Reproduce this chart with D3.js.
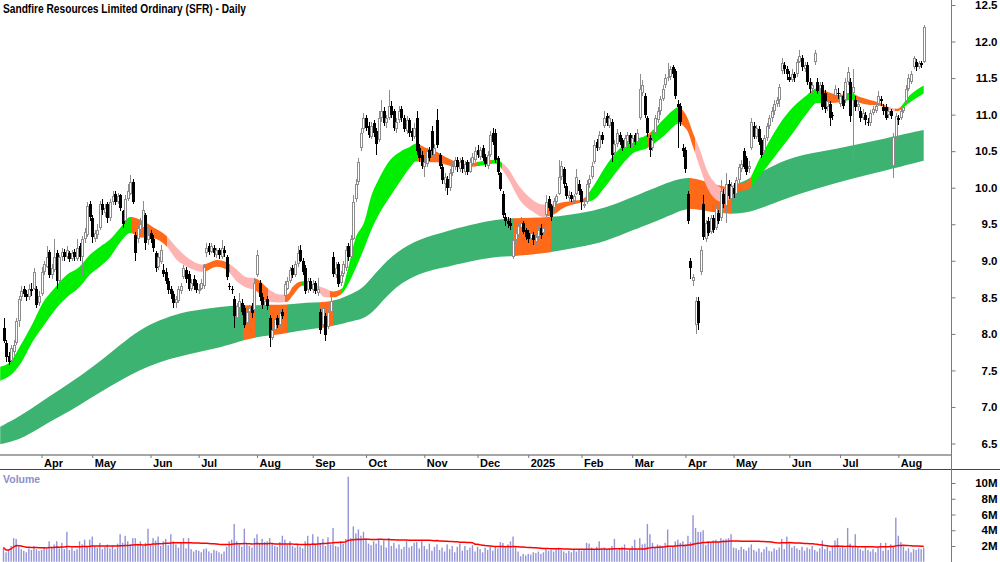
<!DOCTYPE html>
<html>
<head>
<meta charset="utf-8">
<script src="https://cdn.jsdelivr.net/npm/d3@7"></script>
<style>
body { margin: 0; background: #fff; }
svg { display: block; }
</style>
</head>
<body>
<svg id="chart" width="1000" height="562"></svg>
<script>
// daily candles, one line per month (Mar 2024 .. Aug 2025)
var open = [
 8.08,7.88,7.70,7.63,7.75,7.88,8.18,8.50,8.62,8.55,8.50,8.62,8.62,8.62,8.42,
 8.55,8.85,8.92,9.12,8.80,8.88,9.10,8.72,9.05,9.12,9.05,9.10,9.02,9.12,9.02,9.20,9.05,9.30,9.35,9.78,
 9.58,9.30,9.35,9.45,9.78,9.65,9.78,9.58,9.80,9.92,9.80,9.90,9.68,9.55,9.85,9.92,10.08,9.35,9.30,9.42,9.45,9.62,9.28,
 9.38,9.30,9.10,8.92,8.98,8.88,8.85,8.72,8.62,8.55,8.42,8.45,8.58,8.78,8.88,8.82,8.62,8.75,8.70,
 8.58,8.62,8.65,9.10,9.20,9.12,9.18,9.08,9.15,9.05,9.15,9.05,8.66,8.62,8.48,8.22,8.35,8.42,8.36,8.15,8.30,8.38,8.32,
 8.80,8.70,8.50,8.38,8.48,8.22,7.95,8.05,8.22,8.12,8.30,8.52,8.62,8.72,8.90,8.80,8.95,9.15,9.00,8.90,8.60,8.72,
 8.60,8.70,8.56,8.30,8.12,8.25,8.10,8.30,9.05,8.80,8.95,8.70,8.82,8.90,9.20,9.05,9.30,9.85,10.08,10.55,10.80,
 10.95,10.85,10.70,10.88,10.78,10.65,10.95,11.05,10.88,10.95,11.12,11.05,10.80,10.92,11.08,10.95,10.78,10.92,10.78,10.70,10.95,10.55,10.45,
 10.28,10.32,10.52,10.78,10.45,10.93,10.45,10.28,10.05,10.12,10.00,10.20,10.28,10.38,10.25,10.38,10.22,10.35,10.22,10.32,10.38,
 10.52,10.42,10.55,10.42,10.30,10.45,10.75,10.75,10.40,10.20,9.92,9.60,9.55,9.52,9.05,9.28,9.35,9.45,9.52,9.42,
 9.38,9.30,9.35,9.26,9.32,9.45,9.38,9.62,9.85,9.75,9.72,9.80,9.92,10.15,10.25,10.02,9.86,9.90,9.82,9.92,10.05,
 9.95,9.75,9.80,10.05,10.15,10.35,10.62,10.55,10.72,10.85,10.98,10.85,10.90,10.48,10.60,10.72,10.65,10.55,10.62,10.72,
 10.60,10.72,10.62,10.95,11.30,11.25,10.95,10.68,10.55,10.75,10.92,11.05,11.22,11.40,11.50,11.52,11.65,11.60,11.15,11.12,10.55,
 10.52,9.92,9.00,8.72,8.12,8.45,8.85,9.78,9.30,9.55,9.40,9.58,9.45,9.65,9.58,9.92,9.75,10.05,9.85,
 10.00,9.92,10.10,10.25,10.50,10.40,10.25,10.55,10.85,10.70,10.80,10.65,10.50,10.68,10.85,10.95,11.05,11.15,11.20,11.60,11.68,11.62,
 11.52,11.48,11.55,11.55,11.72,11.78,11.62,11.68,11.45,11.35,11.72,11.45,11.35,11.40,11.30,11.10,11.15,11.00,11.25,11.30,
 11.15,11.25,11.20,11.45,11.45,11.30,11.20,11.10,11.05,10.95,11.00,10.90,10.88,11.02,11.05,11.15,11.22,11.10,11.10,11.00,11.05,10.30,10.70,
 10.95,10.95,11.05,11.18,11.35,11.45,11.65,11.72,11.65,11.70,11.72
];
var high = [
 8.22,7.92,7.75,7.85,7.92,8.22,8.52,8.65,8.66,8.60,8.68,8.70,8.90,8.65,8.58,
 8.92,9.00,9.20,9.15,8.95,9.30,9.15,9.08,9.18,9.16,9.20,9.14,9.15,9.16,9.30,9.24,9.34,9.45,9.80,9.82,
 9.62,9.42,9.50,9.82,9.85,9.78,9.80,9.84,9.95,9.96,9.93,9.92,9.70,9.90,10.05,10.17,10.12,9.40,9.48,9.58,9.82,9.65,9.45,
 9.42,9.35,9.14,9.10,9.22,8.95,8.90,8.76,8.66,8.58,8.52,8.66,8.70,8.94,8.92,8.86,8.75,8.80,8.74,
 8.68,8.75,8.95,9.25,9.24,9.25,9.22,9.18,9.18,9.28,9.20,9.08,8.70,8.66,8.52,8.42,8.56,8.48,8.40,8.34,8.40,8.42,8.76,
 9.15,8.74,8.56,8.50,8.52,8.26,8.10,8.25,8.26,8.32,8.34,8.72,8.78,8.92,8.94,9.00,9.20,9.22,9.04,8.94,8.76,8.76,
 8.74,8.72,8.76,8.34,8.40,8.28,8.34,8.55,9.12,8.98,8.98,8.86,9.00,9.20,9.25,9.35,9.90,10.12,10.40,10.82,11.02,
 11.00,10.90,10.90,10.92,10.82,11.05,11.20,11.10,11.00,11.34,11.18,11.08,10.95,11.12,11.12,11.00,10.98,10.96,10.82,10.88,11.05,10.60,10.50,
 10.40,10.55,10.56,10.85,10.60,11.08,10.48,10.32,10.20,10.16,10.25,10.35,10.42,10.42,10.40,10.42,10.36,10.38,10.40,10.48,10.56,
 10.58,10.56,10.58,10.46,10.50,10.78,10.82,10.80,10.44,10.22,9.95,9.66,9.60,9.58,9.32,9.42,9.52,9.60,9.55,9.45,
 9.42,9.44,9.40,9.36,9.48,9.50,9.50,9.90,9.88,9.78,9.86,9.92,10.38,10.36,10.28,10.06,9.95,9.94,9.92,10.25,10.10,
 9.98,9.85,10.10,10.18,10.35,10.65,10.66,10.78,10.76,11.05,11.02,11.00,10.94,10.65,10.80,10.76,10.68,10.72,10.76,10.75,
 10.72,10.75,10.80,11.55,11.48,11.30,10.98,10.72,10.70,11.00,11.10,11.26,11.40,11.56,11.70,11.66,11.68,11.63,11.20,11.16,10.60,
 10.56,9.96,9.04,8.82,8.50,8.50,9.20,9.90,9.56,9.60,9.62,9.62,9.76,9.70,10.10,9.98,10.20,10.10,10.08,
 10.06,10.15,10.32,10.38,10.55,10.44,10.36,10.95,10.90,10.86,10.84,10.68,10.72,10.88,11.00,11.10,11.20,11.24,11.42,11.78,11.72,11.66,
 11.60,11.62,11.58,11.76,11.88,11.82,11.72,11.72,11.50,11.44,11.88,11.50,11.45,11.44,11.34,11.22,11.18,11.04,11.40,11.36,
 11.30,11.32,11.50,11.65,11.50,11.62,11.25,11.20,11.10,11.08,11.04,10.96,11.06,11.12,11.16,11.32,11.26,11.14,11.14,11.10,11.08,10.75,11.02,
 11.00,11.08,11.14,11.40,11.55,11.60,11.80,11.76,11.74,11.74,12.22
];
var low = [
 7.87,7.62,7.58,7.60,7.70,7.85,8.10,8.45,8.50,8.45,8.46,8.52,8.60,8.35,8.38,
 8.52,8.80,8.90,8.76,8.75,8.85,8.62,8.68,9.00,9.00,9.02,8.98,9.00,9.00,9.00,9.00,8.80,9.25,9.32,9.55,
 9.25,9.26,9.30,9.42,9.62,9.60,9.52,9.55,9.76,9.76,9.78,9.68,9.45,9.52,9.82,9.90,9.78,9.00,9.25,9.38,9.42,9.15,9.22,
 9.25,9.12,8.85,8.88,8.95,8.78,8.68,8.55,8.48,8.35,8.36,8.42,8.55,8.75,8.70,8.58,8.58,8.60,8.56,
 8.55,8.60,8.62,9.05,9.08,9.10,9.05,9.04,9.02,9.02,9.05,8.74,8.60,8.55,8.08,8.18,8.30,8.26,8.08,8.10,8.26,8.22,8.30,
 8.78,8.45,8.34,8.32,8.32,7.82,7.92,8.02,8.08,8.10,8.20,8.50,8.60,8.70,8.76,8.78,8.92,8.98,8.80,8.55,8.56,8.58,
 8.56,8.54,8.52,8.00,8.10,7.90,8.06,8.28,8.78,8.76,8.64,8.66,8.78,8.86,9.00,9.02,9.28,9.80,10.04,10.50,10.75,
 10.78,10.68,10.66,10.70,10.45,10.62,10.90,10.84,10.82,10.92,10.95,10.78,10.75,10.88,10.90,10.76,10.74,10.70,10.64,10.66,10.45,10.35,10.25,
 10.15,10.28,10.36,10.45,10.42,10.55,10.26,10.05,9.95,9.90,9.96,10.16,10.24,10.22,10.22,10.20,10.18,10.18,10.20,10.30,10.35,
 10.40,10.38,10.36,10.28,10.26,10.42,10.58,10.34,10.18,9.95,9.58,9.48,9.45,9.42,9.02,9.24,9.32,9.42,9.36,9.28,
 9.25,9.26,9.22,9.20,9.30,9.30,9.34,9.60,9.68,9.55,9.68,9.76,9.90,10.10,10.00,9.84,9.82,9.80,9.78,9.90,9.90,
 9.70,9.72,9.78,10.00,10.12,10.32,10.50,10.52,10.60,10.82,10.84,10.82,10.35,10.44,10.56,10.58,10.50,10.52,10.58,10.55,
 10.56,10.58,10.58,10.92,11.25,10.95,10.70,10.42,10.50,10.72,10.88,11.00,11.18,11.36,11.46,11.48,11.50,11.22,10.55,10.85,10.42,
 10.20,9.50,8.75,8.65,8.00,8.05,8.80,9.28,9.26,9.34,9.36,9.38,9.42,9.50,9.55,9.72,9.52,9.84,9.82,
 9.86,9.88,10.06,10.22,10.25,10.18,10.20,10.52,10.66,10.66,10.58,10.40,10.46,10.64,10.80,10.90,11.00,11.10,11.10,11.55,11.56,11.48,
 11.44,11.45,11.45,11.52,11.70,11.60,11.58,11.40,11.30,11.30,11.68,11.28,11.30,11.06,11.02,11.05,10.85,10.92,11.22,11.22,
 11.10,11.08,11.16,11.40,10.90,10.38,11.05,11.05,10.90,10.92,10.86,10.84,10.85,11.00,11.02,11.12,11.12,11.00,10.92,10.96,10.94,10.13,10.66,
 10.86,10.92,11.02,11.15,11.32,11.42,11.62,11.60,11.62,11.64,11.70
];
var close = [
 7.90,7.68,7.62,7.80,7.85,8.18,8.48,8.58,8.55,8.50,8.62,8.58,8.85,8.40,8.52,
 8.85,8.95,9.05,8.80,8.90,9.05,8.72,9.05,9.12,9.05,9.15,9.02,9.10,9.05,9.18,9.05,9.30,9.40,9.75,9.60,
 9.32,9.38,9.42,9.78,9.70,9.72,9.58,9.80,9.88,9.80,9.88,9.72,9.50,9.85,9.95,10.08,9.80,9.10,9.45,9.50,9.70,9.25,9.35,
 9.30,9.18,8.90,9.05,9.15,8.82,8.72,8.60,8.55,8.42,8.48,8.62,8.65,8.90,8.75,8.62,8.70,8.65,8.60,
 8.62,8.70,8.92,9.18,9.12,9.20,9.10,9.15,9.08,9.18,9.10,8.78,8.64,8.60,8.25,8.38,8.45,8.30,8.12,8.30,8.35,8.28,8.70,
 9.08,8.50,8.40,8.45,8.38,7.95,8.05,8.20,8.12,8.28,8.25,8.68,8.72,8.88,8.80,8.95,9.10,9.00,8.85,8.58,8.72,8.62,
 8.68,8.58,8.62,8.05,8.35,7.98,8.30,8.45,8.82,8.90,8.68,8.80,8.95,9.15,9.05,9.30,9.80,10.05,10.35,10.75,10.95,
 10.82,10.72,10.85,10.75,10.60,10.95,11.05,10.88,10.95,11.12,11.00,10.82,10.90,11.05,10.95,10.80,10.92,10.75,10.70,10.82,10.50,10.40,10.30,
 10.35,10.50,10.40,10.50,10.55,10.58,10.30,10.10,10.15,10.00,10.20,10.30,10.38,10.28,10.35,10.25,10.32,10.22,10.35,10.42,10.50,
 10.45,10.52,10.40,10.32,10.45,10.72,10.62,10.38,10.22,9.98,9.62,9.55,9.50,9.48,9.28,9.38,9.48,9.52,9.40,9.32,
 9.30,9.38,9.28,9.32,9.42,9.35,9.45,9.80,9.72,9.60,9.82,9.88,10.15,10.30,10.05,9.88,9.90,9.85,9.88,10.15,9.95,
 9.80,9.78,10.05,10.12,10.30,10.58,10.55,10.72,10.65,10.95,10.88,10.95,10.45,10.60,10.75,10.62,10.55,10.68,10.72,10.60,
 10.68,10.62,10.75,11.35,11.40,11.00,10.75,10.52,10.65,10.95,11.05,11.22,11.35,11.50,11.52,11.62,11.55,11.25,11.10,10.90,10.50,
 10.25,9.55,8.90,8.78,8.45,8.15,9.15,9.32,9.52,9.38,9.58,9.42,9.72,9.55,9.95,9.78,10.05,9.88,10.02,
 9.92,10.10,10.28,10.32,10.28,10.22,10.30,10.90,10.70,10.82,10.62,10.45,10.68,10.85,10.95,11.05,11.15,11.20,11.38,11.70,11.62,11.55,
 11.48,11.55,11.50,11.72,11.80,11.65,11.68,11.45,11.35,11.40,11.85,11.32,11.40,11.10,11.08,11.18,10.95,10.98,11.35,11.28,
 11.25,11.12,11.45,11.58,10.98,11.38,11.10,11.15,10.95,11.02,10.92,10.88,11.02,11.08,11.12,11.25,11.18,11.05,10.95,11.05,10.98,10.70,10.98,
 10.92,11.05,11.10,11.35,11.50,11.55,11.78,11.65,11.70,11.68,12.20
];
// volume in millions
var volume = [
 1.8,1.2,1.5,2.0,3.0,2.9,1.9,1.6,1.4,1.2,1.7,1.5,2.0,1.6,1.4,
 1.5,1.8,1.6,2.6,1.9,2.2,2.6,1.7,2.4,1.6,3.8,1.5,1.8,1.4,1.6,2.6,2.2,2.8,2.0,2.8,
 3.2,2.0,1.8,2.4,1.6,1.9,2.2,1.7,2.1,1.6,2.3,3.5,2.4,3.3,2.6,2.2,3.0,3.0,2.3,2.6,2.0,2.4,4.2,
 2.2,3.0,2.7,3.2,2.0,2.6,2.9,2.1,3.5,2.6,2.2,1.8,2.4,3.0,1.7,3.0,1.6,1.3,1.5,
 1.4,1.2,1.6,1.7,1.3,1.1,1.5,1.4,1.2,1.0,1.3,1.9,2.6,2.8,4.8,2.6,2.2,1.9,4.2,2.3,2.0,1.8,3.0,
 3.5,2.4,2.9,2.5,2.6,3.0,2.3,2.0,1.9,2.5,3.3,2.8,2.2,2.6,2.0,1.8,2.3,1.9,1.7,2.6,3.3,2.1,
 3.5,2.2,3.2,2.4,2.9,2.0,3.1,2.2,4.3,2.0,1.9,2.6,2.3,2.9,10.8,3.0,4.5,3.6,4.1,3.3,3.8,
 3.0,2.3,2.1,2.6,2.3,2.9,2.1,2.7,1.8,3.0,2.0,2.4,1.7,2.2,1.6,1.9,2.6,1.8,2.0,2.4,2.5,1.7,2.6,
 2.0,1.6,2.3,1.4,1.9,2.2,1.5,1.8,1.3,2.2,1.6,2.0,1.2,1.9,2.3,1.4,2.0,1.5,1.8,2.1,1.3,
 1.9,1.6,1.2,1.8,1.5,1.9,1.4,2.0,1.7,2.5,2.4,1.8,2.2,2.6,3.2,1.9,1.3,0.7,1.0,0.8,
 1.0,0.9,1.2,1.1,1.3,1.0,1.2,1.6,1.4,1.5,1.3,1.6,1.8,1.5,1.3,1.1,1.4,1.2,1.5,1.3,1.6,
 1.4,1.6,2.4,2.3,1.8,1.5,1.9,2.6,1.6,1.8,1.5,1.7,2.0,2.9,1.5,1.7,1.9,2.2,1.4,1.6,
 2.0,2.8,1.6,3.0,2.2,2.3,4.8,3.5,2.4,1.8,2.2,2.1,2.0,2.4,4.1,1.8,2.0,2.6,2.8,2.4,2.6,
 2.2,3.3,2.5,5.9,4.3,3.8,3.8,4.0,2.1,2.6,2.4,2.7,2.8,2.5,3.0,2.8,2.9,3.0,3.5,
 1.8,1.7,1.5,1.9,1.6,1.4,1.8,2.2,1.5,1.3,1.7,1.2,1.6,1.9,1.4,1.3,1.7,1.5,1.8,2.9,1.6,3.2,
 2.3,1.8,2.0,1.7,1.5,1.9,1.4,1.8,1.6,2.0,1.5,1.3,1.7,2.7,1.6,1.9,1.4,2.0,2.7,3.0,
 1.8,2.0,1.7,4.3,2.3,1.9,3.5,1.8,1.6,1.4,1.9,1.5,1.3,1.6,1.2,1.8,2.4,1.4,2.4,1.5,2.2,1.9,5.6,
 3.3,2.5,1.9,1.4,1.7,1.2,1.6,1.5,1.7,1.6,1.8
];

// short-term ribbon edges, read at candle positions
var shortAt = [-1.3,3,6.5,11.6,15.6,19.5,25,30,34,38,42,46,50,54,59,64,68.4,72.4,78.7,84.2,88,92,95.3,100,104,109,112,114,118,120,124,127,130,133.5,135.5,138.7,142.6,144.6,148.5,152.5,156.4,160.4,162.7,167,171,175,179,182.8,188,194,198.6,203.7,208.9,212.8,216.8,220.7,224.7,228.6,232.5,237.3,243.2,248.3,253.8,260.2,264.1,266.1,269.6,272,274.7,277.5,281.4,284.6,289.3,293.3,298,306.3,311.4,317,320.9,326,330,334,337.9,341.8,345.8,349.7,352.5,357.6,363];
var shortTop = [7.55,7.63,7.83,8.15,8.43,8.60,8.81,8.92,9.08,9.19,9.29,9.45,9.60,9.56,9.46,9.35,9.18,9.05,8.95,9.01,8.98,8.88,8.78,8.75,8.63,8.54,8.54,8.64,8.72,8.70,8.66,8.62,8.58,8.62,8.84,9.29,9.56,9.83,10.15,10.38,10.49,10.56,10.60,10.54,10.49,10.41,10.35,10.32,10.36,10.38,10.28,10.01,9.83,9.77,9.77,9.80,9.82,9.85,10.01,10.28,10.54,10.65,10.72,10.93,11.06,11.10,10.97,10.75,10.52,10.24,10.04,9.98,10.04,10.08,10.38,10.88,11.10,11.27,11.36,11.30,11.27,11.30,11.24,11.20,11.16,11.10,11.08,11.27,11.40];
var shortBot = [7.36,7.44,7.58,7.90,8.10,8.29,8.50,8.64,8.81,8.92,9.05,9.25,9.38,9.32,9.31,9.21,9.01,8.92,8.85,8.92,8.88,8.72,8.64,8.58,8.44,8.43,8.44,8.52,8.66,8.64,8.58,8.50,8.50,8.55,8.65,8.88,9.20,9.38,9.66,9.88,10.08,10.28,10.36,10.35,10.35,10.31,10.28,10.28,10.30,10.33,10.15,9.83,9.67,9.60,9.63,9.72,9.77,9.80,9.83,10.01,10.28,10.47,10.54,10.70,10.83,10.88,10.79,10.56,10.28,10.01,9.83,9.80,9.95,9.97,10.15,10.52,10.75,11.02,11.16,11.16,11.17,11.20,11.16,11.13,11.12,11.06,11.05,11.17,11.29];
var shortColorStart = [0,50.7,64.5,78.7,89.4,99.2,104.3,111,117.8,119.7,123.7,128.8,133.5,163.1,187.2,190.7,192.3,196.6,214.4,230.2,253.9,255.8,266.9,272.8,288.6,295.3,323.3,332.4,336.3,347.7,351.7,354.5];
var shortColor = ["g","o","p","o","p","o","p","o","g","o","p","o","g","o","g","o","g","p","o","g","o","g","o","p","o","g","o","g","o","p","o","g"];

// long-term band edges
var longAt = [-1.3,6.5,14.4,22.3,30.2,38,46,53.8,61.7,69.6,77.5,85.4,93.3,100,106.3,113,119.7,126,132.7,139.5,142.6,146.5,152.5,161.5,172.2,185.2,192,201,215.6,227.4,237.3,248.3,261.7,268,271.6,278.7,284.6,287.8,295.7,309,322,335,348.5,363];
var longTop = [6.73,6.87,7.06,7.24,7.42,7.62,7.85,8.06,8.19,8.29,8.33,8.37,8.39,8.39,8.40,8.40,8.43,8.43,8.47,8.58,8.66,8.82,9.05,9.27,9.38,9.50,9.55,9.59,9.59,9.65,9.72,9.87,10.07,10.13,10.14,10.07,10.00,10.02,10.15,10.41,10.49,10.58,10.68,10.79];
var longBot = [6.49,6.55,6.72,6.87,7.03,7.20,7.36,7.51,7.62,7.69,7.76,7.81,7.90,7.96,7.98,8.02,8.06,8.08,8.13,8.19,8.22,8.32,8.58,8.80,8.90,9.00,9.05,9.06,9.11,9.19,9.26,9.42,9.60,9.70,9.72,9.67,9.65,9.64,9.67,9.86,10.00,10.13,10.24,10.37];
var longColorStart = [0,94.5,99.2,104.7,111.8,124.9,130,201,216,270.8,287.4];
var longColor = ["s","o","s","o","s","o","s","o","s","o","s"];

var priceTicks = [6.5,7.0,7.5,8.0,8.5,9.0,9.5,10.0,10.5,11.0,11.5,12.0,12.5];
var volTicks = [2,4,6,8,10];
var holidays = ["2024-03-29","2024-04-01","2024-04-25","2024-06-10","2024-12-25","2024-12-26",
  "2025-01-01","2025-01-27","2025-04-18","2025-04-21","2025-04-25","2025-06-09"];
var title = "Sandfire Resources Limited Ordinary (SFR) - Daily";

var colors = { g: "#00ee00", o: "#ff6a1a", p: "#ffb4b4", s: "#3cb371" };
var n = close.length;

// trading days from 8 Mar 2024
var fmtKey = d3.timeFormat("%Y-%m-%d");
var days = [];
var dt = new Date(2024, 2, 8);
while (days.length < n) {
    var wd = dt.getDay();
    if (wd != 0 && wd != 6 && holidays.indexOf(fmtKey(dt)) < 0) days.push(new Date(dt));
    dt.setDate(dt.getDate() + 1);
}

var svg = d3.select("#chart");
var x = d3.scaleLinear().domain([0, 363]).range([3.5, 923.7]);
var y = d3.scaleLinear().domain([6.5, 12.5]).range([443.5, 5]);
var yVol = d3.scaleLinear().domain([0, 10]).range([561.75, 483]);

var narrow = "'Liberation Sans Narrow','Arial Narrow','Liberation Sans',Arial,sans-serif";
var sans = "'Liberation Sans',Arial,sans-serif";

// band drawn once per colour run, clipped to its x-range
function drawBand(at, top, bot, starts, cols, name, curve) {
    var area = d3.area()
        .x(function(d, i) { return x(at[i]); })
        .y0(function(d, i) { return y(bot[i]); })
        .y1(function(d, i) { return y(top[i]); })
        .curve(curve);
    var g = svg.append("g");
    starts.forEach(function(s, j) {
        var x0 = j == 0 ? 0 : Math.round(x(s));
        var x1 = j == starts.length - 1 ? 951 : Math.round(x(starts[j + 1]));
        var id = name + j;
        svg.append("clipPath").attr("id", id)
            .append("rect").attr("x", x0).attr("y", 0).attr("width", x1 - x0).attr("height", 454);
        g.append("path")
            .datum(at)
            .attr("d", area)
            .attr("fill", colors[cols[j]])
            .attr("clip-path", "url(#" + id + ")");
    });
}

drawBand(longAt, longTop, longBot, longColorStart, longColor, "lc", d3.curveBasis);
drawBand(shortAt, shortTop, shortBot, shortColorStart, shortColor, "sc", d3.curveMonotoneX);

// candles
var candle = svg.append("g").attr("shape-rendering", "crispEdges");
d3.range(n).forEach(function(i) {
    var cx = Math.round(x(i));
    var up = close[i] >= open[i];
    var col = up ? "#8c8c8c" : "#000";
    var top = Math.round(y(Math.max(open[i], close[i])));
    var bot = Math.round(y(Math.min(open[i], close[i])));
    if (bot - top < 1) bot = top + 1;
    candle.append("rect")
        .attr("x", cx).attr("width", 1)
        .attr("y", Math.round(y(high[i]))).attr("height", Math.max(1, Math.round(y(low[i])) - Math.round(y(high[i]))))
        .attr("fill", col);
    candle.append("rect")
        .attr("x", cx - 1).attr("width", 3)
        .attr("y", top).attr("height", bot - top)
        .attr("fill", col);
    if (up && bot - top > 2) {
        candle.append("rect")
            .attr("x", cx).attr("width", 1)
            .attr("y", top + 1).attr("height", bot - top - 2)
            .attr("fill", "#fff");
    }
});

// frame lines
svg.append("rect").attr("x", 0).attr("y", 454).attr("width", 951).attr("height", 2).attr("fill", "#a6a6a6");
svg.append("rect").attr("x", 0).attr("y", 469).attr("width", 1000).attr("height", 1).attr("fill", "#444");
svg.append("rect").attr("x", 951).attr("y", 0).attr("width", 1).attr("height", 562).attr("fill", "#7a7a7a");

// price axis
var yAxis = d3.axisRight(y).tickValues(priceTicks).tickSize(4).tickFormat(d3.format(".1f"));
var ya = svg.append("g").attr("transform", "translate(951.5,0)").call(yAxis);
ya.select(".domain").remove();
ya.selectAll("line").attr("stroke", "#7a7a7a");
ya.selectAll("text")
    .attr("x", 46).attr("text-anchor", "end")
    .attr("font-family", narrow).attr("font-weight", "bold").attr("font-size", 11.5).attr("fill", "#000");

// month axis
var monthStarts = [];
for (var i = 1; i < n; i++) {
    if (days[i].getMonth() != days[i - 1].getMonth()) monthStarts.push(i);
}
var xAxis = d3.axisBottom(x).tickValues(monthStarts).tickSize(3)
    .tickFormat(function(i) {
        return days[i].getMonth() == 0 ? d3.timeFormat("%Y")(days[i]) : d3.timeFormat("%b")(days[i]);
    });
var xa = svg.append("g").attr("transform", "translate(0,455)").call(xAxis);
xa.select(".domain").remove();
xa.selectAll("line").attr("stroke", "#7a7a7a");
xa.selectAll("text")
    .attr("x", 2).attr("y", 12).attr("dy", 0).attr("text-anchor", "start")
    .attr("font-family", sans).attr("font-weight", "bold").attr("font-size", 11).attr("fill", "#000");

// volume
svg.append("g").selectAll("rect")
    .data(volume)
    .enter()
    .append("rect")
    .attr("x", function(d, i) { return x(i) - 0.7; })
    .attr("width", 1.4)
    .attr("y", function(d) { return yVol(d); })
    .attr("height", function(d) { return yVol(0) - yVol(d); })
    .attr("fill", "#9393d8");

var volAvg = volume.map(function(v, i) {
    return d3.mean(volume.slice(Math.max(0, i - 49), i + 1));
});
svg.append("path")
    .datum(volAvg)
    .attr("d", d3.line()
        .x(function(d, i) { return x(i); })
        .y(function(d) { return yVol(d); }))
    .attr("fill", "none")
    .attr("stroke", "#ff0000")
    .attr("stroke-width", 1.5);

var yvAxis = d3.axisRight(yVol).tickValues(volTicks).tickSize(4).tickFormat(function(d) { return d + "M"; });
var yva = svg.append("g").attr("transform", "translate(951.5,0)").call(yvAxis);
yva.select(".domain").remove();
yva.selectAll("line").attr("stroke", "#7a7a7a");
yva.selectAll("text")
    .attr("x", 46).attr("text-anchor", "end")
    .attr("font-family", narrow).attr("font-weight", "bold").attr("font-size", 11.5).attr("fill", "#000");

svg.append("text")
    .attr("x", 3).attr("y", 483)
    .attr("font-family", sans).attr("font-weight", "bold").attr("font-size", 10.5)
    .attr("fill", "#8e8ec8")
    .text("Volume");

svg.append("text")
    .attr("x", 3).attr("y", 12.5)
    .attr("font-family", sans).attr("font-weight", "bold").attr("font-size", 12)
    .attr("textLength", 243).attr("lengthAdjust", "spacingAndGlyphs")
    .attr("fill", "#000")
    .text(title);
</script>
</body>
</html>
